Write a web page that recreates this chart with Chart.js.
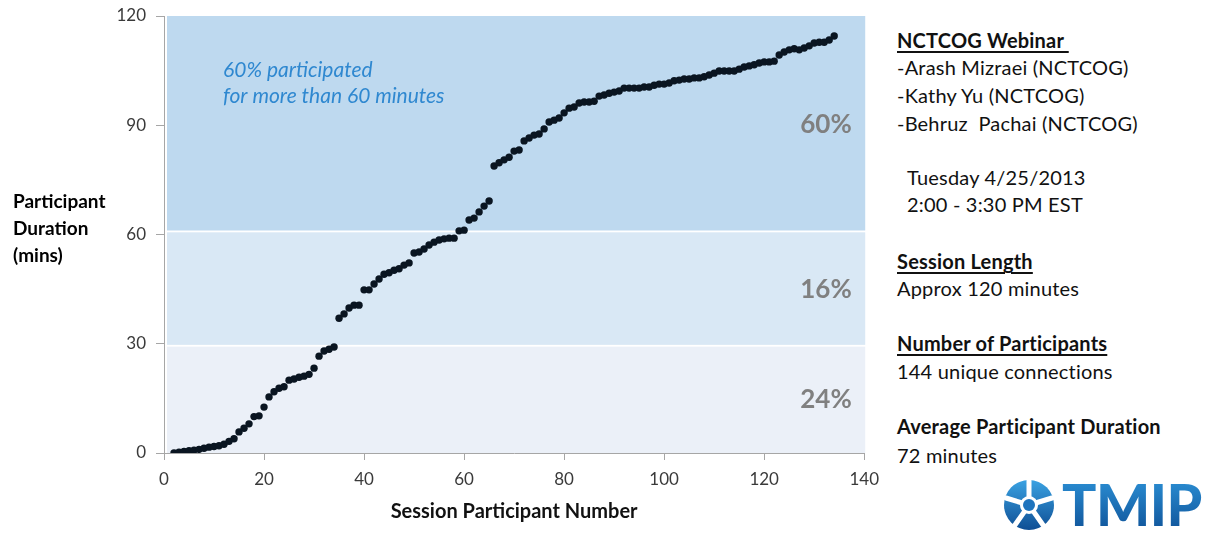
<!DOCTYPE html>
<html>
<head>
<meta charset="utf-8">
<script src="https://cdn.jsdelivr.net/npm/chart.js@4.4.1/dist/chart.umd.min.js"></script>
<style>
  html, body { margin: 0; padding: 0; background: #fff; }
  body { width: 1206px; height: 533px; position: relative; overflow: hidden; font-family: Lato, "Noto Sans", sans-serif; color: #111; }
  #wrap { position: absolute; left: 0; top: 0; width: 888px; height: 533px; }
  .info { position: absolute; left: 897px; font-size: 20px; line-height: 24px; letter-spacing: 0.2px; white-space: pre; }
  .info.b { font-weight: bold; }
  .info.u { text-decoration: underline; text-underline-offset: 3px; }
  #logo { position: absolute; left: 1002px; top: 478px; width: 204px; height: 54px; }
  #logo svg { position: absolute; left: 0; top: 1px; }
  #logo span { position: absolute; left: 60px; top: -8px; font-size: 57px; font-weight: 900; letter-spacing: -0.5px;
    background: linear-gradient(#2f97dc, #0d4d93); -webkit-background-clip: text; background-clip: text; color: transparent; }
</style>
</head>
<body>
<div id="wrap"><canvas id="chart" width="888" height="533"></canvas></div>

<div class="info b u" style="top:28px">NCTCOG Webinar&nbsp;</div>
<div class="info" style="top:55px">-Arash Mizraei (NCTCOG)</div>
<div class="info" style="top:83px">-Kathy Yu (NCTCOG)</div>
<div class="info" style="top:111px">-Behruz  Pachai (NCTCOG)</div>
<div class="info" style="top:165px; left:907px">Tuesday 4/25/2013</div>
<div class="info" style="top:192px; left:907px">2:00 - 3:30 PM EST</div>
<div class="info b u" style="top:249px">Session Length</div>
<div class="info" style="top:276px">Approx 120 minutes</div>
<div class="info b u" style="top:331px">Number of Participants</div>
<div class="info" style="top:359px">144 unique connections</div>
<div class="info b" style="top:414px">Average Participant Duration</div>
<div class="info" style="top:443px">72 minutes</div>

<div id="logo">
  <svg width="54" height="52" viewBox="0 0 54 52">
    <defs>
      <linearGradient id="lg" x1="0" y1="0" x2="0" y2="1">
        <stop offset="0" stop-color="#3aa2e2"/>
        <stop offset="1" stop-color="#0e4e94"/>
      </linearGradient>
    </defs>
    <circle cx="27" cy="26" r="25" fill="url(#lg)"/>
    <g stroke="#fff" stroke-width="5" stroke-linecap="round">
      <line x1="27" y1="26" x2="27" y2="2"/>
      <line x1="27" y1="26" x2="50" y2="19"/>
      <line x1="27" y1="26" x2="41" y2="46"/>
      <line x1="27" y1="26" x2="13" y2="46"/>
      <line x1="27" y1="26" x2="4" y2="19"/>
    </g>
    <circle cx="27" cy="26" r="9" fill="#fff"/>
    <circle cx="27" cy="26" r="6" fill="#1f74bd"/>
  </svg>
  <span>TMIP</span>
</div>

<script>
// participant number (x) and how long each one stayed, in minutes (y)
const participantNumbers = [
  2, 3, 4, 5, 6, 7, 8, 9, 10, 11, 12, 13, 14, 15, 16, 17, 18, 19, 20, 21,
  22, 23, 24, 25, 26, 27, 28, 29, 30, 31, 32, 33, 34, 35, 36, 37, 38, 39, 40, 41,
  42, 43, 44, 45, 46, 47, 48, 49, 50, 51, 52, 53, 54, 55, 56, 57, 58, 59, 60, 61,
  62, 63, 64, 65, 66, 67, 68, 69, 70, 71, 72, 73, 74, 75, 76, 77, 78, 79, 80, 81,
  82, 83, 84, 85, 86, 87, 88, 89, 90, 91, 92, 93, 94, 95, 96, 97, 98, 99, 100, 101,
  102, 103, 104, 105, 106, 107, 108, 109, 110, 111, 112, 113, 114, 115, 116, 117, 118, 119, 120, 121,
  122, 123, 124, 125, 126, 127, 128, 129, 130, 131, 132, 133, 134
];
const durationMins = [
  0, 0.2, 0.4, 0.6, 0.8, 1.0, 1.3, 1.6, 1.8, 2.0, 2.4, 3.2, 3.9,
  5.8, 6.8, 8.0, 10.0, 10.2, 12.6, 15.4, 16.8, 17.8, 18.2, 20.0, 20.3, 20.8, 21.1, 21.6, 23.3, 26.6, 28.0, 28.5, 29.1,
  37.0, 38.2, 39.8, 40.6, 40.6, 44.8, 44.8, 46.4, 47.8, 49.1, 49.5, 50.2, 50.6, 51.6, 52.2, 54.9, 55.2, 56.0,
  57.1, 57.9, 58.5, 58.8, 59.0, 59.0, 61.0, 61.2, 64.0, 64.5, 66.2, 67.8, 69.2,
  78.8, 79.7, 80.5, 81.2, 82.9, 83.2, 85.7, 86.5, 87.3, 87.6, 89.0, 90.9, 91.4, 92.0, 93.4, 94.7, 95.0, 96.1,
  96.4, 96.4, 96.6, 98.0, 98.3, 98.8, 99.1, 99.4, 100.2, 100.2, 100.2, 100.2, 100.5, 100.5, 101.0, 101.3, 101.3,
  101.6, 102.2, 102.4,
  102.7, 102.7, 103.0, 103.0, 103.3, 103.8, 104.3, 104.9, 104.9, 104.9, 104.9, 105.4, 106.0, 106.3, 106.6,
  107.1, 107.4, 107.4, 107.6, 109.3, 110.1, 110.7, 111.0, 110.7, 111.2, 111.8, 112.6, 112.8, 112.8, 113.4, 114.5
];
const xTicks = [0, 20, 40, 60, 80, 100, 120, 140];
const yTicks = [0, 30, 60, 90, 120];

// shaded duration bands: [from, to, colour]
const bands = [
  [0, 29.2, '#ebf0f8'],
  [29.7, 60.6, '#d9e8f5'],
  [61.1, 120, '#bed9ef']
];
const bandShares = ['24%', '16%', '60%'];

const tickFont = { family: 'Lato', size: 17 };
const axisGrey = '#a6a6a6';

const backdrop = {
  id: 'backdrop',
  beforeDatasetsDraw(chart) {
    const { ctx, chartArea, scales } = chart;
    ctx.save();
    bands.forEach(([lo, hi, c]) => {
      const y1 = scales.y.getPixelForValue(hi);
      const y2 = scales.y.getPixelForValue(lo);
      ctx.fillStyle = c;
      ctx.fillRect(chartArea.left + 3, y1, chartArea.right - chartArea.left - 2, y2 - y1);
    });
    ctx.restore();
  },
  afterDatasetsDraw(chart) {
    const { ctx, scales } = chart;
    ctx.save();
    // share labels in each band
    ctx.font = 'bold 26px Lato';
    ctx.fillStyle = '#808080';
    ctx.textAlign = 'right';
    ctx.textBaseline = 'middle';
    const shareY = [14.6, 44.8, 90.1];
    bandShares.forEach((t, i) => ctx.fillText(t, scales.x.getPixelForValue(137.5), scales.y.getPixelForValue(shareY[i])));
    // note in the top band
    ctx.font = 'italic 21px Lato';
    ctx.fillStyle = '#2f88d0';
    ctx.textAlign = 'left';
    const nx = scales.x.getPixelForValue(11.8);
    ctx.fillText('60% participated', nx, scales.y.getPixelForValue(105.2));
    ctx.fillText('for more than 60 minutes', nx, scales.y.getPixelForValue(97.9));
    // y axis title, written flat on three lines
    ctx.font = 'bold 19px Lato';
    ctx.fillStyle = '#000';
    ['Participant', 'Duration', '(mins)'].forEach((t, i) => ctx.fillText(t, 13, 202 + i * 27));
    ctx.restore();
  }
};

new Chart(document.getElementById('chart'), {
  type: 'scatter',
  data: {
    datasets: [{
      data: participantNumbers.map((x, i) => ({ x, y: durationMins[i] })),
      pointRadius: 3.7,
      pointBackgroundColor: '#0a1521',
      pointBorderWidth: 0,
      pointHoverRadius: 3.7
    }]
  },
  options: {
    responsive: false,
    animation: false,
    layout: { padding: { top: 16, right: 16, left: 0, bottom: 0 } },
    plugins: { legend: { display: false }, tooltip: { enabled: false } },
    scales: {
      x: {
        type: 'linear', min: 0, max: 140,
        afterBuildTicks: s => { s.ticks = xTicks.map(v => ({ value: v })); },
        afterFit: s => { s.height = 80; },
        ticks: { font: tickFont, color: '#3a3a3a', padding: 9 },
        grid: { drawOnChartArea: false, tickLength: 7, color: axisGrey },
        border: { color: axisGrey },
        title: { display: true, text: 'Session Participant Number', color: '#111',
          font: { family: 'Lato', size: 20, weight: 'bold' }, padding: { top: 0, bottom: 9 } }
      },
      y: {
        min: 0, max: 120,
        afterBuildTicks: s => { s.ticks = yTicks.map(v => ({ value: v })); },
        afterFit: s => { s.width = 164; s.paddingTop = 0; s.paddingBottom = 0; },
        ticks: { font: tickFont, color: '#3a3a3a', padding: 10 },
        grid: { drawOnChartArea: false, tickLength: 8, color: axisGrey },
        border: { color: axisGrey }
      }
    }
  },
  plugins: [backdrop]
});
</script>
</body>
</html>
